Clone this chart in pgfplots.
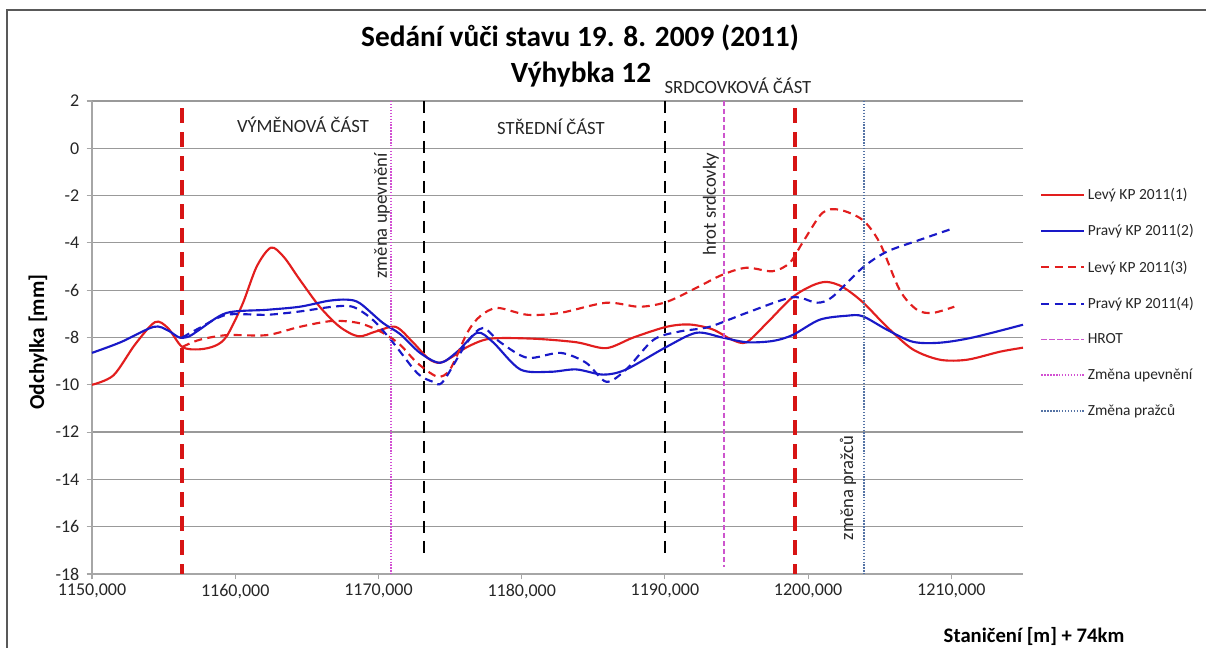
\documentclass[border=0pt]{standalone}
\usepackage{fontspec}
\setmainfont{Carlito}
\usepackage{pgfplots}
\pgfplotsset{compat=1.18}

\definecolor{lred}{RGB}{226,30,30}
\definecolor{lblue}{RGB}{25,25,200}
\definecolor{vred}{RGB}{215,20,20}
\definecolor{hrotcol}{RGB}{205,85,205}
\definecolor{upev}{RGB}{210,80,210}
\definecolor{prazce}{RGB}{85,115,165}

\begin{document}
\begin{tikzpicture}
\begin{axis}[
  at={(0,0)}, anchor=south west,
  scale only axis, width=698.25pt, height=354.75pt,
  xmin=1150, xmax=1215, ymin=-18, ymax=2,
  xtick={1150,1160,1170,1180,1190,1200,1210},
  ytick={-18,-16,-14,-12,-10,-8,-6,-4,-2,0,2},
  axis lines=left, axis line style={-, draw=gray!70, line width=0.8pt},
  ymajorgrids, grid style={draw=gray!80, line width=0.9pt},
  tick style={draw=gray!70, line width=0.8pt}, tick align=outside, major tick length=4pt,
  /pgf/number format/assume math mode=true,
  x tick label style={/pgf/number format/.cd, fixed, fixed zerofill, precision=3, use comma, 1000 sep={}},
  y tick label style={xshift=-2pt},
  ticklabel style={font=\fontsize{13.5}{15}\selectfont, text=black!85},
  clip=false,
  legend style={at={(1.014,0.828)}, anchor=north west, draw=none, fill=none,
    font=\fontsize{11.6}{13}\selectfont, row sep=13.3pt, text=black!85},
  legend cell align=left,
  legend image code/.code={\draw[#1] (0pt,0pt) -- (32pt,0pt);},
]
% section boundaries (not in legend)
\addplot[vred, line width=3pt, dash pattern=on 11pt off 7pt, forget plot] coordinates {(1156.3,1.7) (1156.3,-18)};
\addplot[vred, line width=3pt, dash pattern=on 11pt off 7pt, forget plot] coordinates {(1199.1,1.7) (1199.1,-18)};
\addplot[black, line width=1.8pt, dash pattern=on 9pt off 6pt, forget plot] coordinates {(1173.2,2) (1173.2,-17.4)};
\addplot[black, line width=1.8pt, dash pattern=on 9pt off 6pt, forget plot] coordinates {(1190,2) (1190,-17.4)};

% measured settlement
\addplot[lred, line width=1.6pt, smooth] coordinates {
(1150,-10.0) (1151.5,-9.6) (1153,-8.3) (1154.4,-7.35) (1155.3,-7.6) (1156.3,-8.4)
(1157.5,-8.5) (1158.6,-8.35) (1159.4,-7.95) (1160.5,-6.6) (1161.5,-5.0) (1162.5,-4.2)
(1163.4,-4.6) (1164.5,-5.55) (1165.9,-6.7) (1167.3,-7.55) (1168.6,-7.95) (1169.8,-7.75)
(1171.2,-7.55) (1172.4,-8.2) (1173.5,-8.9) (1174.3,-9.07) (1175.2,-8.8) (1176.2,-8.4)
(1177.8,-8.05) (1180.8,-8.05) (1183.8,-8.2) (1185.9,-8.45) (1187.8,-8.0) (1190.1,-7.55)
(1191.7,-7.45) (1193.3,-7.65) (1194.7,-8.1) (1195.7,-8.2) (1197.1,-7.4) (1198.9,-6.3)
(1200.3,-5.8) (1201.3,-5.65) (1202.4,-5.86) (1203.8,-6.5) (1205.5,-7.55) (1207.3,-8.5)
(1209.2,-8.94) (1211.1,-8.94) (1213.4,-8.6) (1215,-8.43)};
\addlegendentry{Levý KP 2011(1)}

\addplot[lblue, line width=1.6pt, smooth] coordinates {
(1150,-8.65) (1152,-8.2) (1154.3,-7.55) (1155.3,-7.7) (1156.1,-8.0) (1156.8,-7.95)
(1157.5,-7.67) (1159.4,-6.96) (1162.2,-6.83) (1164.5,-6.7) (1166.5,-6.45) (1167.8,-6.4)
(1168.7,-6.55) (1170.3,-7.38) (1171.5,-7.85) (1172.9,-8.65) (1174.3,-9.07) (1175.5,-8.6)
(1176.9,-7.8) (1178,-8.2) (1179.9,-9.35) (1182,-9.45) (1183.8,-9.35) (1185.7,-9.57)
(1187.3,-9.35) (1190.1,-8.4) (1192.2,-7.8) (1194,-8.0) (1195.7,-8.2) (1197.5,-8.15)
(1198.9,-7.9) (1200.8,-7.25) (1202.7,-7.08) (1203.8,-7.1) (1205.5,-7.67) (1207.3,-8.18)
(1209.2,-8.22) (1211.5,-8.0) (1215,-7.46)};
\addlegendentry{Pravý KP 2011(2)}

\addplot[lred, line width=1.6pt, dash pattern=on 6pt off 4pt, smooth] coordinates {
(1156.3,-8.4) (1157.5,-8.1) (1159.4,-7.9) (1162.2,-7.9) (1164.5,-7.55) (1166.8,-7.3)
(1168.7,-7.4) (1170.3,-7.8) (1171.5,-8.3) (1172.7,-9.07) (1174.1,-9.65) (1175,-9.35)
(1176.2,-7.8) (1177.1,-7.1) (1178.3,-6.75) (1180.4,-7.04) (1182.7,-6.96) (1185.9,-6.53)
(1188.2,-6.7) (1190.1,-6.5) (1192.2,-5.9) (1194,-5.35) (1195.7,-5.05) (1197.5,-5.2)
(1198.7,-4.85) (1199.6,-4.0) (1201,-2.73) (1202.2,-2.6) (1203.8,-3.03) (1205,-4.0)
(1206.4,-6.0) (1207.6,-6.83) (1208.7,-6.96) (1210.2,-6.7)};
\addlegendentry{Levý KP 2011(3)}

\addplot[lblue, line width=1.6pt, dash pattern=on 6pt off 4pt, smooth] coordinates {
(1156.3,-8.0) (1157.5,-7.6) (1159.4,-7.04) (1162.2,-7.04) (1164.5,-6.9) (1166.8,-6.7)
(1168.2,-6.7) (1169.6,-7.25) (1171,-8.2) (1172.7,-9.5) (1173.8,-9.87) (1174.5,-9.87)
(1176.2,-8.2) (1177.3,-7.6) (1178.5,-8.2) (1180.4,-8.86) (1182.7,-8.65) (1184.5,-9.07)
(1185.9,-9.87) (1187.3,-9.35) (1189.2,-8.1) (1191,-7.75) (1193.1,-7.55) (1195.7,-6.96)
(1198.9,-6.3) (1200.6,-6.53) (1201.7,-6.28) (1203.8,-5.05) (1205.5,-4.37) (1207.8,-3.87)
(1210.2,-3.37)};
\addlegendentry{Pravý KP 2011(4)}

% markers
\addplot[hrotcol, line width=1.4pt, dash pattern=on 4pt off 2pt] coordinates {(1194.1,2) (1194.1,-17.7)};
\addlegendentry{HROT}
\addplot[upev, line width=1.4pt, dash pattern=on 1.1pt off 1.1pt] coordinates {(1170.9,2) (1170.9,-18)};
\addlegendentry{Změna upevnění}
\addplot[prazce, line width=1.4pt, dash pattern=on 1.1pt off 1.1pt] coordinates {(1203.9,2) (1203.9,-18)};
\addlegendentry{Změna pražců}
\end{axis}

\begin{scope}[x=0.75pt, y=-0.75pt, shift={(-92,-574)}]
  \path[use as bounding box] (0,0) rectangle (1206,648);
  \draw[gray!70!black, line width=0.9pt] (7,648) -- (7,10) -- (1206,10);
  \node[font=\fontsize{22}{26}\selectfont\bfseries] at (580,38) {Sedání vůči stavu 19. 8. 2009 (2011)};
  \node[font=\fontsize{22}{26}\selectfont\bfseries] at (581,75) {Výhybka 12};
  \node[font=\fontsize{14}{16}\selectfont, text=black!85] at (738,86) {SRDCOVKOVÁ ČÁST};
  \node[font=\fontsize{14}{16}\selectfont, text=black!85] at (303,125) {VÝMĚNOVÁ ČÁST};
  \node[font=\fontsize{14}{16}\selectfont, text=black!85] at (551,127) {STŘEDNÍ ČÁST};
  \node[font=\fontsize{14}{16}\selectfont, text=black!85, rotate=90] at (382,216) {změna upevnění};
  \node[font=\fontsize{14}{16}\selectfont, text=black!85, rotate=90] at (711,204) {hrot srdcovky};
  \node[font=\fontsize{14}{16}\selectfont, text=black!85, rotate=90] at (848,488) {změna pražců};
  \node[font=\fontsize{16}{18}\selectfont\bfseries, rotate=90] at (38,342) {Odchylka [mm]};
  \node[font=\fontsize{15.5}{18}\selectfont\bfseries] at (1034,636) {Staničení [m] + 74km};
\end{scope}
\end{tikzpicture}
\end{document}
